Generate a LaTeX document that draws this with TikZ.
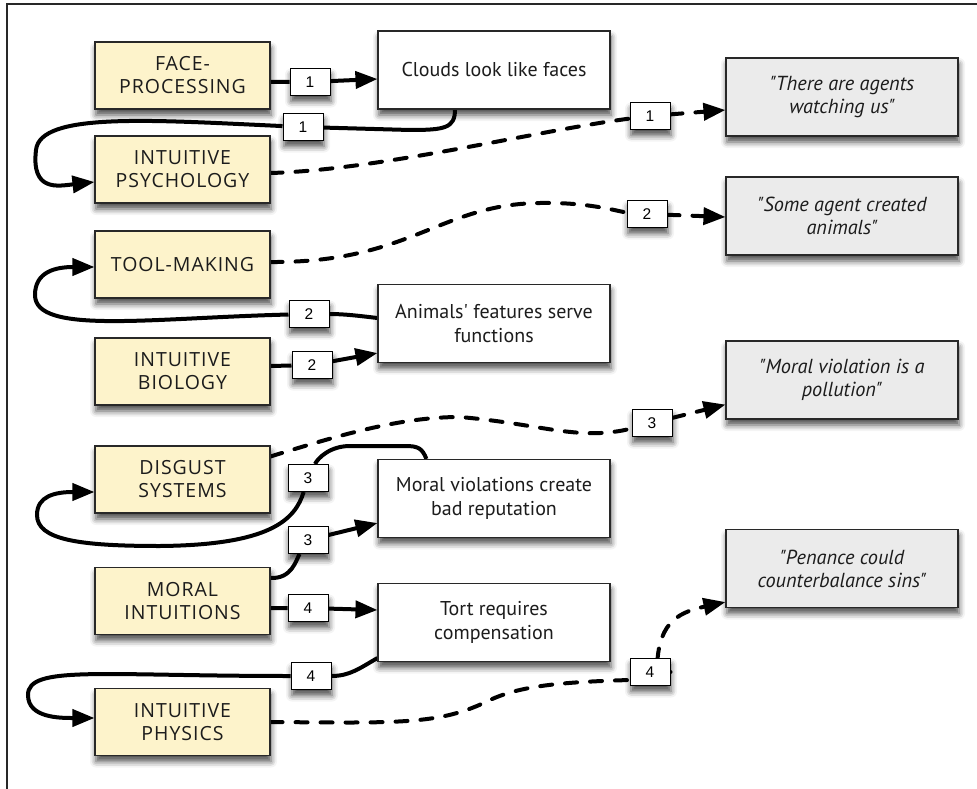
\documentclass[tikz,border=0pt]{standalone}
\usepackage{fontspec}
\setmainfont{PT Sans}[Ligatures=TeXOff]
\newfontfamily\capfont{Open Sans}[Ligatures=TeXOff,LetterSpace=5]
\newfontfamily\lblfont{Liberation Sans}
\usetikzlibrary{arrows.meta,shadows.blur}
\definecolor{yel}{RGB}{253,243,203}
\definecolor{gry}{RGB}{235,235,235}
\definecolor{edge}{RGB}{40,40,40}
\definecolor{ink}{RGB}{28,28,28}
\pgfdeclarelayer{bg}
\pgfsetlayers{bg,main}
\tikzset{
  shad/.style={blur shadow={shadow xshift=1pt, shadow yshift=-6pt, shadow blur radius=6pt, shadow opacity=70}},
  ybox/.style={shad, draw=edge, line width=1.1pt, fill=yel, minimum width=175pt, minimum height=67pt, align=center, inner sep=0pt, text=ink, font=\capfont\fontsize{19.5}{23}\selectfont},
  wbox/.style={shad, draw=edge, line width=1.1pt, fill=white, minimum width=232pt, minimum height=78pt, align=center, inner sep=0pt, text=ink, font=\fontsize{20}{24}\selectfont},
  gbox/.style={shad, draw=edge, line width=1.1pt, fill=gry, minimum width=232pt, minimum height=78pt, align=center, inner sep=0pt, text=ink, font=\fontsize{20.3}{23}\selectfont\itshape},
  lbl/.style={shad, draw=black, line width=1pt, fill=white, minimum width=40pt, minimum height=27pt, inner sep=0pt, font=\lblfont\fontsize{15.5}{15.5}\selectfont},
  conn/.style={line width=4pt, ->},
  dconn/.style={line width=4pt, ->, line cap=round, dash pattern=on 12pt off 13pt},
  frameline/.style={line width=1.5pt, draw=edge}
}
\begin{document}
\begin{tikzpicture}[x=1pt,y=-1pt,>={Triangle[length=22pt,width=17pt]}]
\useasboundingbox (0,0) rectangle (977,789);
\draw[frameline] (7,789) -- (7,4) -- (977,4);

% yellow boxes
\node[ybox] (fp) at (182.5,75.5) {FACE-\\PROCESSING};
\node[ybox] (ip) at (182.5,169.5) {INTUITIVE\\PSYCHOLOGY};
\node[ybox] (tm) at (182.5,264.5) {TOOL-MAKING};
\node[ybox] (ib) at (182.5,371.5) {INTUITIVE\\BIOLOGY};
\node[ybox] (ds) at (182.5,479.5) {DISGUST\\SYSTEMS};
\node[ybox] (mi) at (182.5,601) {MORAL\\INTUITIONS};
\node[ybox] (ph) at (182.5,722) {INTUITIVE\\PHYSICS};

% white boxes
\node[wbox] (clouds) at (494,70) {Clouds look like faces};
\node[wbox] (animals) at (494,323.5) {Animals' features serve\\functions};
\node[wbox] (moral) at (494,498.5) {Moral violations create\\bad reputation};
\node[wbox] (tort) at (494,622.5) {Tort requires\\compensation};

% grey boxes
\node[gbox] (agents) at (842,97) {"There are agents\\watching us"};
\node[gbox] (some) at (842,216) {"Some agent created\\animals"};
\node[gbox] (pollution) at (842,380) {"Moral violation is a\\pollution"};
\node[gbox] (penance) at (842,568.5) {"Penance could\\counterbalance sins"};

% labels
\node[lbl] (l1a) at (310,82) {1};
\node[lbl] (l1b) at (303,127) {1};
\node[lbl] (l1c) at (650,116) {1};
\node[lbl] (l2c) at (647,214) {2};
\node[lbl] (l2b) at (309,314) {2};
\node[lbl] (l2a) at (312,365) {2};
\node[lbl] (l3c) at (652,423) {3};
\node[lbl] (l3b) at (308,478) {3};
\node[lbl] (l3a) at (308,540) {3};
\node[lbl] (l4a) at (308,608) {4};
\node[lbl] (l4b) at (311,676) {4};
\node[lbl] (l4c) at (650,672) {4};

\begin{pgfonlayer}{bg}
% 1
\draw[conn] ([yshift=-6.5pt]fp.east) -- (l1a) -- ([yshift=-9pt]clouds.west);
\draw[conn] ([xshift=-39pt]clouds.south) .. controls (455,128) and (445,130) .. (410,130) -- (l1b)
  .. controls (150,120) and (40,112) .. (36,150) .. controls (31,192) and (58,186) .. ([yshift=-12.5pt]ip.west);
\draw[dconn] ([yshift=-3.5pt]ip.east) .. controls (380,170) and (540,130) .. (l1c) -- ([yshift=-13pt]agents.west);
% 2
\draw[dconn] ([yshift=2.5pt]tm.east) .. controls (410,263) and (440,204) .. (540,203) .. controls (590,202) and (620,212) .. (l2c) -- ([yshift=-1pt]some.west);
\draw[conn] ([yshift=5.5pt]animals.west) .. controls (360,316) and (345,314) .. (l2b)
  .. controls (150,318) and (35,335) .. (35,295) .. controls (35,272) and (55,267) .. ([yshift=-2.5pt]tm.west);
\draw[conn] ([yshift=5.5pt]ib.east) -- (l2a) -- ([yshift=10pt]animals.south west);
% 3
\draw[dconn] ([yshift=-11pt]ds.north east) .. controls (340,435) and (400,417) .. (460,417) .. controls (540,424) and (575,440) .. (625,430) -- (l3c) -- ([yshift=15pt]pollution.south west);
\draw[conn] ([xshift=49pt]moral.north west) .. controls (422,448) and (418,446) .. (405,446) -- (350,446)
  .. controls (330,446) and (318,458) .. (l3b) .. controls (295,520) and (270,545) .. (160,546)
  .. controls (80,546) and (37,540) .. (37,515) .. controls (37,496) and (55,492) .. ([yshift=-12.5pt]ds.west);
\draw[conn] ([yshift=-11pt]mi.north east) .. controls (292,579) and (296,560) .. (l3a) -- ([yshift=15pt]moral.south west);
% 4
\draw[conn] ([yshift=-7pt]mi.east) -- (l4a) -- ([yshift=12.5pt]tort.west);
\draw[conn] ([yshift=4pt]tort.south west) .. controls (360,668) and (350,676) .. (l4b)
  .. controls (100,676) and (28,665) .. (28,695) .. controls (28,718) and (60,718) .. ([yshift=4pt]ph.west);
\draw[dconn] (ph.east) .. controls (400,723) and (440,725) .. (490,700) .. controls (520,686) and (560,682) .. (630,680) -- (l4c)
  -- ([xshift=7pt]l4c.center) .. controls (657,625) and (675,613) .. ([yshift=6pt]penance.south west);
\end{pgfonlayer}
\end{tikzpicture}
\end{document}
